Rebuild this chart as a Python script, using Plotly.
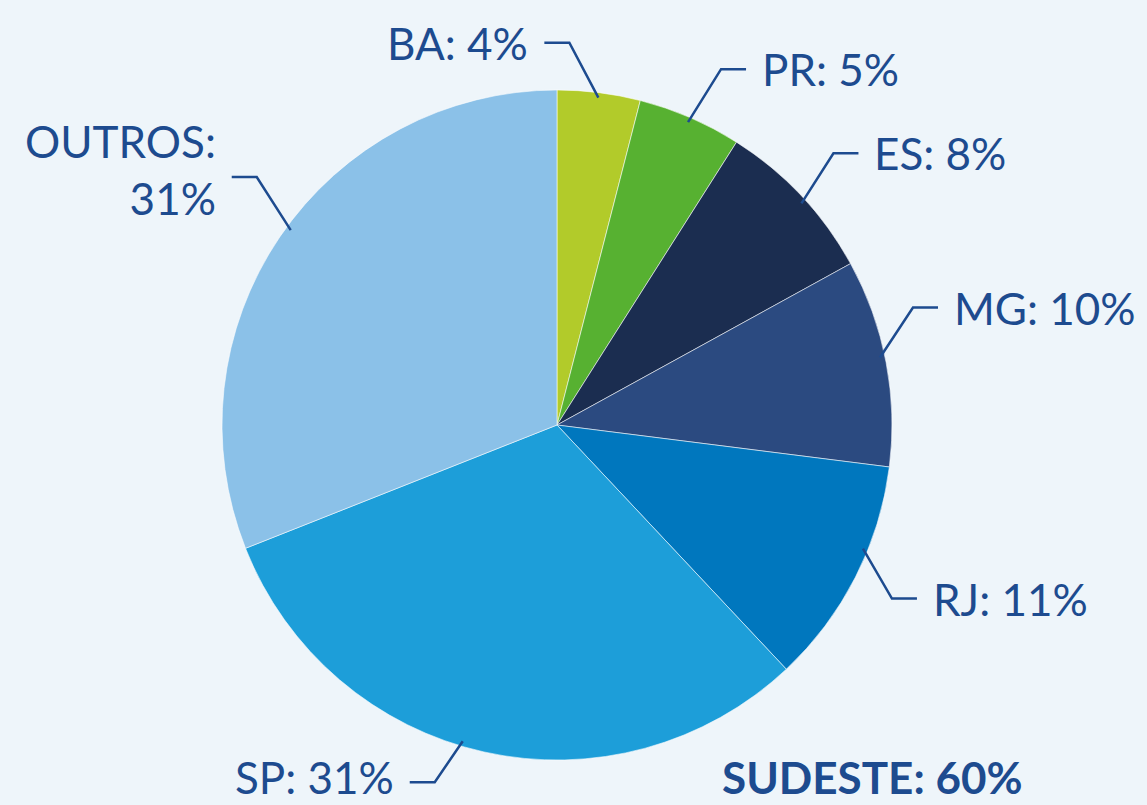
import math
import plotly.graph_objects as go

# ---- data ----
states = ["BA", "PR", "ES", "MG", "RJ", "SP", "OUTROS"]
shares = [4, 5, 8, 10, 11, 31, 31]
colors = ["#B2CB2A", "#57B131", "#1B2D50", "#2B4A80", "#0077BE", "#1D9ED9", "#8BC1E8"]
sudeste_states = ["ES", "MG", "RJ", "SP"]
sudeste_label = "SUDESTE"

# ---- layout / styling ----
W, H = 1147, 805
CX, CY, R = 557, 425, 335            # pie centre and radius in px
TXT = "#1D4B8F"
FONT = "Lato"
FS = 44
# per-label leader geometry: start-angle tweak (deg), elbow offset (px), side, text shift
leader = {
    "BA":     dict(dang=0,  elbow=(-29, -55), side=-1, ys=0),
    "PR":     dict(dang=0,  elbow=(33, -53),  side=1,  ys=0),
    "ES":     dict(dang=1,  elbow=(32, -50),  side=1,  ys=0),
    "MG":     dict(dang=-1, elbow=(33, -50),  side=1,  ys=0),
    "RJ":     dict(dang=-5, elbow=(29, 50),   side=1,  ys=0),
    "SP":     dict(dang=4,  elbow=(-28, 41),  side=-1, ys=5),
    "OUTROS": dict(dang=2,  elbow=(-34, -53), side=-1, ys=8),
}
HSEG = 25
GAP = 15


def px(x):
    return x / W


def py(y):
    return 1 - y / H


fig = go.Figure()
fig.add_trace(go.Pie(
    labels=states, values=shares, sort=False, direction="clockwise", rotation=0,
    marker=dict(colors=colors, line=dict(color="rgba(255,255,255,0.55)", width=1)),
    textinfo="none", hoverinfo="label+percent", showlegend=False,
    domain=dict(x=[px(CX - R), px(CX + R)], y=[py(CY + R), py(CY - R)]),
))

shapes = []
annotations = []
total = sum(shares)
cum = 0
for s, v in zip(states, shares):
    mid = (cum + v / 2) / total * 360
    cum += v
    L = leader[s]
    a = math.radians(mid + L["dang"])
    r0 = R * 0.985
    x0, y0 = CX + r0 * math.sin(a), CY - r0 * math.cos(a)
    x1, y1 = x0 + L["elbow"][0], y0 + L["elbow"][1]
    x2 = x1 + L["side"] * HSEG
    path = f"M {px(x0)} {py(y0)} L {px(x1)} {py(y1)} L {px(x2)} {py(y1)}"
    shapes.append(dict(type="path", xref="paper", yref="paper", path=path,
                       line=dict(color=TXT, width=2.5), layer="above"))
    pct = round(v / total * 100)
    text = f"{s}:<br>{pct}%" if s == "OUTROS" else f"{s}: {pct}%"
    annotations.append(dict(
        x=px(x2 + L["side"] * GAP), y=py(y1), xref="paper", yref="paper",
        text=text, showarrow=False, align="right" if L["side"] < 0 else "left",
        xanchor="right" if L["side"] < 0 else "left", yanchor="middle", yshift=L["ys"],
        borderpad=0, font=dict(family=FONT, size=FS, color=TXT),
    ))

sud = sum(v for s, v in zip(states, shares) if s in sudeste_states)
annotations.append(dict(
    x=px(872), y=py(782), xref="paper", yref="paper", yshift=5, borderpad=0,
    text=f"<b>{sudeste_label}: {sud}%</b>", showarrow=False,
    xanchor="center", yanchor="middle",
    font=dict(family=FONT, size=FS, color=TXT),
))

fig.update_layout(
    width=W, height=H, margin=dict(l=0, r=0, t=0, b=0),
    paper_bgcolor="#EEF5FA", plot_bgcolor="#EEF5FA",
    shapes=shapes, annotations=annotations,
)
fig.write_html("out.html", config={"displayModeBar": False},
               post_script="document.body.style.margin='0';document.body.style.overflow='hidden';")
